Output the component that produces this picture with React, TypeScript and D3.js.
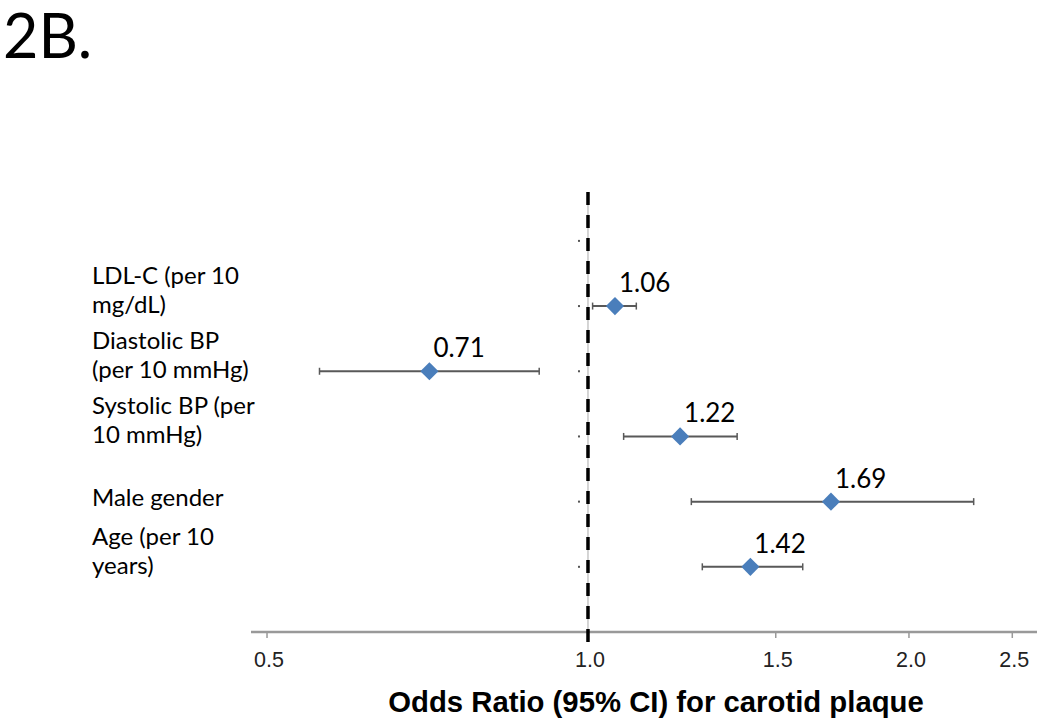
import React from "react";
import * as d3 from "d3";

// rows listed top to bottom
const categoryLines = [
  ["LDL-C (per 10", "mg/dL)"],
  ["Diastolic BP", "(per 10 mmHg)"],
  ["Systolic BP (per", "10 mmHg)"],
  ["Male gender"],
  ["Age (per 10", "years)"],
];
const oddsRatios = [1.06, 0.71, 1.22, 1.69, 1.42];
const ciLower = [1.01, 0.56, 1.08, 1.25, 1.28];
const ciUpper = [1.11, 0.9, 1.38, 2.3, 1.59];
const xTicks = [0.5, 1.0, 1.5, 2.0, 2.5];

const W = 1050;
const H = 728;

export default function App() {
  const x = d3.scaleLog().domain([0.483, 2.637]).range([251, 1037]);
  const y = d3.scaleLinear().domain([0, 6.75]).range([632, 192]);
  const n = oddsRatios.length;
  const rowPos = (i: number) => n - i;
  const diamond = d3.symbol().type(d3.symbolDiamond2).size(210)();
  const calibri = "Lato, 'Open Sans', sans-serif";
  const arial = "'Liberation Sans', Arial, sans-serif";

  return (
    <svg
      width={W}
      height={H}
      style={{ position: "absolute", left: 0, top: 0, background: "#fff" }}
    >
      <text x={3} y={58} fontFamily={calibri} fontSize={61} fill="#000">
        2B.
      </text>

      {/* vertical axis at OR = 1 */}
      <line x1={x(1)} x2={x(1)} y1={y(6.75)} y2={y(0)} stroke="#aaa" strokeWidth={1} />
      {d3.range(0, 7).map((k) => (
        <rect key={k} x={x(1) - 10} y={y(k) - 1} width={2} height={2} fill="#555" />
      ))}

      {/* x axis */}
      <line x1={x.range()[0]} x2={x.range()[1]} y1={y(0)} y2={y(0)} stroke="#999" strokeWidth={2.5} />
      {xTicks.map((t) => (
        <g key={t}>
          <line x1={x(t)} x2={x(t)} y1={y(0)} y2={y(0) + 6} stroke="#999" strokeWidth={1.5} />
          <text
            x={x(t) + 2}
            y={667}
            textAnchor="middle"
            fontFamily={arial}
            fontSize={21.5}
            fill="#222"
          >
            {t.toFixed(1)}
          </text>
        </g>
      ))}

      {/* reference line */}
      <line
        x1={x(1)}
        x2={x(1)}
        y1={y(6.75)}
        y2={y(0) + 10}
        stroke="#000"
        strokeWidth={3.5}
        strokeDasharray="13 10"
      />

      {/* category labels */}
      {categoryLines.map((lines, i) => {
        const cy = y(rowPos(i));
        const first = lines.length === 1 ? cy + 4 : cy - 22;
        return (
          <text key={i} fontFamily={calibri} fontSize={24} fill="#000">
            {lines.map((l, j) => (
              <tspan key={j} x={92} y={first + j * 29}>
                {l}
              </tspan>
            ))}
          </text>
        );
      })}

      {/* error bars and points */}
      {oddsRatios.map((or, i) => {
        const cy = y(rowPos(i));
        const lo = x(ciLower[i]);
        const hi = x(ciUpper[i]);
        return (
          <g key={i}>
            <line x1={lo} x2={hi} y1={cy} y2={cy} stroke="#595959" strokeWidth={2} />
            <line x1={lo} x2={lo} y1={cy - 3.5} y2={cy + 3.5} stroke="#595959" strokeWidth={1.5} />
            <line x1={hi} x2={hi} y1={cy - 3.5} y2={cy + 3.5} stroke="#595959" strokeWidth={1.5} />
            <path d={diamond ?? ""} transform={`translate(${x(or)},${cy})`} fill="#4a7ebb" />
            <text
              x={x(or) + 4}
              y={cy - 14}
              fontFamily={calibri}
              fontSize={26}
              fill="#000"
            >
              {or.toFixed(2)}
            </text>
          </g>
        );
      })}

      <text
        x={656}
        y={712}
        textAnchor="middle"
        fontFamily={arial}
        fontWeight="bold"
        fontSize={29.3}
        fill="#000"
      >
        Odds Ratio (95% CI) for carotid plaque
      </text>
    </svg>
  );
}
